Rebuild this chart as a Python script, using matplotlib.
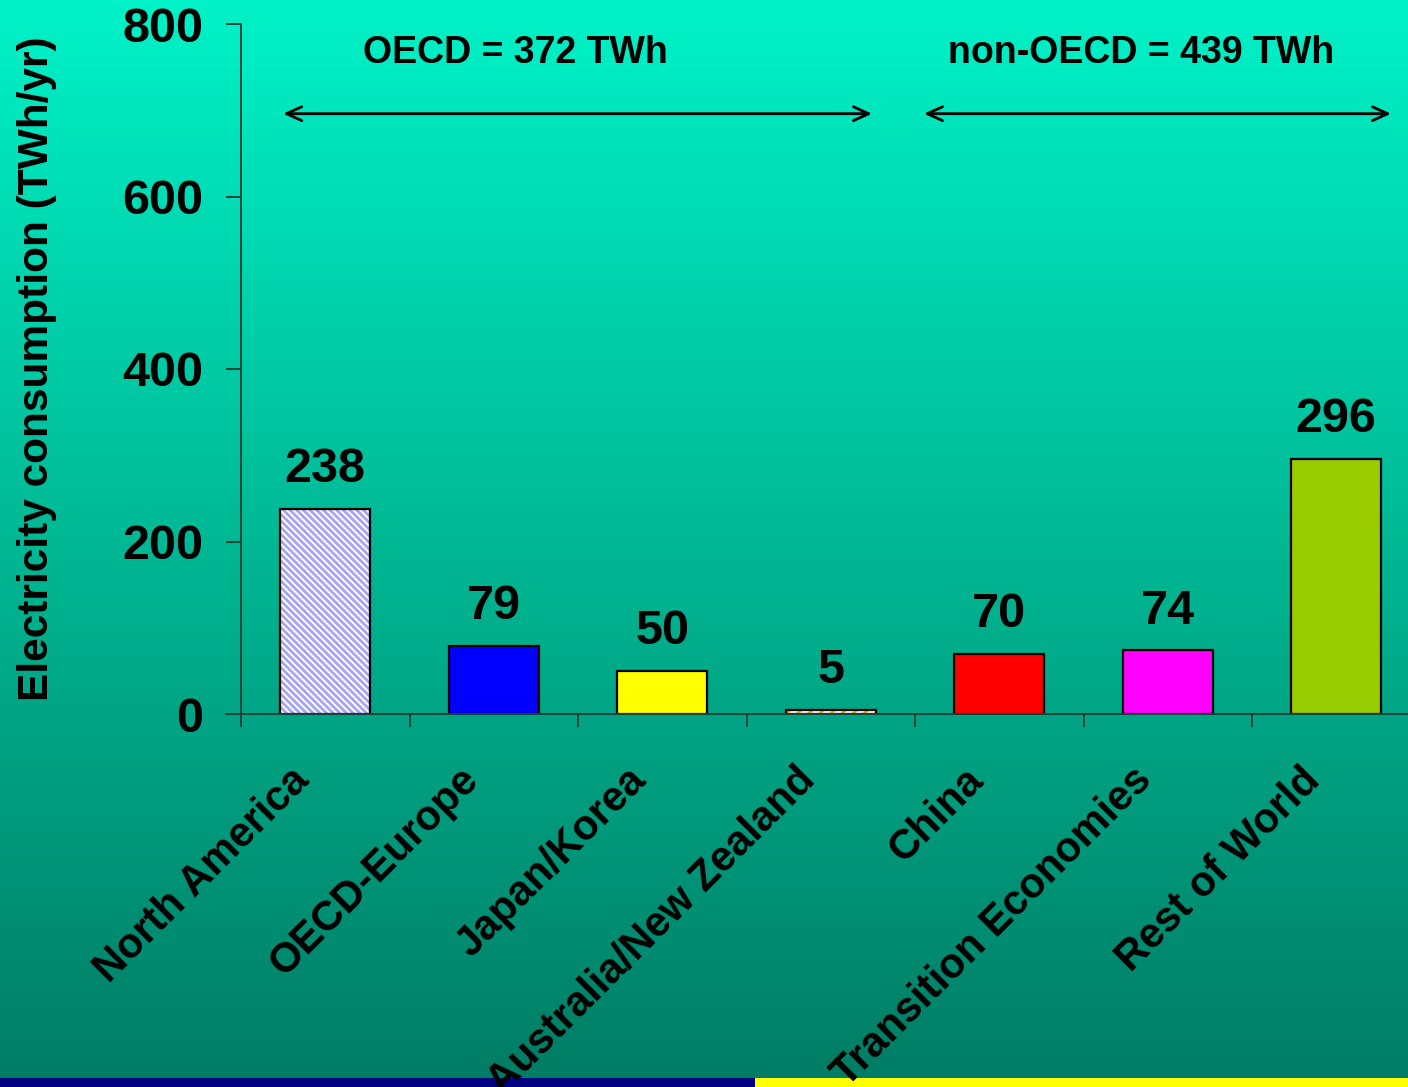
import numpy as np
import matplotlib
matplotlib.use("Agg")
import matplotlib.pyplot as plt
from matplotlib.colors import LinearSegmentedColormap
from matplotlib.patches import Rectangle

plt.rcParams['font.family'] = ['Liberation Sans', 'DejaVu Sans']
plt.rcParams['font.weight'] = 'bold'
plt.rcParams['hatch.linewidth'] = 2.0

# Electricity consumption by region (TWh/yr)
regions = ["North America", "OECD-Europe", "Japan/Korea", "Australia/New Zealand",
           "China", "Transition Economies", "Rest of World"]
consumption = [238, 79, 50, 5, 70, 74, 296]
bar_colors = ["#FFFFFF", "#0000FF", "#FFFF00", "#FFFFFF", "#FF0000", "#FF00FF", "#99CC00"]
hatch_colors = ["#A4A4F2", None, None, "#F0B400", None, None, None]
hatches = ["\\\\\\\\\\", None, None, "///", None, None, None]
y_ticks = [0, 200, 400, 600, 800]
group_labels = ["OECD = 372 TWh", "non-OECD = 439 TWh"]

W, H = 1408, 1087
fig = plt.figure(figsize=(W / 100, H / 100), dpi=100)

# Gradient background plus the two-colour strip at the bottom
bg = fig.add_axes([0, 0, 1, 1], zorder=-10)
grad = np.linspace(0, 1, 256).reshape(-1, 1)
cmap = LinearSegmentedColormap.from_list("bg", ["#00F2C8", "#00B894", "#007C64"])
bg.imshow(grad, aspect="auto", cmap=cmap, extent=[0, 1, 0, 1], origin="upper")
bg.add_patch(Rectangle((0, 0), 755 / W, 9 / H, color="#000080", lw=0))
bg.add_patch(Rectangle((755 / W, 0), 1 - 755 / W, 9 / H, color="#FFFF00", lw=0))
bg.set_xlim(0, 1)
bg.set_ylim(0, 1)
bg.axis("off")

ax = fig.add_axes([241 / W, 373 / H, 1179.5 / W, 690 / H])
ax.set_facecolor("none")
x = np.arange(len(regions))
width = 0.535

for i in range(len(regions)):
    if hatches[i]:
        ax.bar(x[i], consumption[i], width, color=bar_colors[i], edgecolor=hatch_colors[i],
               hatch=hatches[i], linewidth=0, zorder=2)
        ax.bar(x[i], consumption[i], width, color="none", edgecolor="black",
               linewidth=1.6, zorder=3)
    else:
        ax.bar(x[i], consumption[i], width, color=bar_colors[i], edgecolor="black",
               linewidth=1.6, zorder=3)

for i, v in enumerate(consumption):
    ax.annotate(str(v), xy=(x[i], v), xytext=(0, 12), textcoords="offset points",
                ha="center", va="bottom", fontsize=35, fontweight="bold", color="black")

ax.set_xlim(-0.5, len(regions) - 0.5)
ax.set_ylim(0, 800)

axis_color = "#14463A"
for side in ["top", "right"]:
    ax.spines[side].set_visible(False)
ax.spines["left"].set_color(axis_color)
ax.spines["bottom"].set_color(axis_color)
ax.spines["left"].set_linewidth(1.4)
ax.spines["bottom"].set_linewidth(1.4)
ax.spines["left"].set_bounds(-9, 800)

ax.set_yticks(y_ticks)
ax.set_yticklabels([str(t) for t in y_ticks], fontsize=35, fontweight="bold")
ax.tick_params(axis="y", length=11, width=1.4, color=axis_color, pad=16)

ax.set_xticks(np.arange(len(regions) + 1) - 0.5)
ax.set_xticklabels([])
ax.tick_params(axis="x", length=9, width=1.4, color=axis_color, direction="out")

# Extend the baseline left past the y axis
ax.plot([-0.59, len(regions) - 0.5], [0, 0], color=axis_color, lw=1.4,
        clip_on=False, zorder=4)

for i, name in enumerate(regions):
    ax.annotate(name, xy=(x[i], 0), xycoords=("data", "axes fraction"),
                xytext=(-26, -33), textcoords="offset points",
                rotation=45, rotation_mode="anchor", ha="right", va="top",
                fontsize=30, fontweight="bold", color="black")

ax.set_ylabel("Electricity consumption (TWh/yr)", fontsize=30.5, fontweight="bold")
ax.yaxis.set_label_coords(-0.156, 0.5)

# Group spans for OECD and non-OECD regions
arrow_kw = dict(arrowstyle="<->,head_length=0.55,head_width=0.25", lw=2,
                color="black", mutation_scale=20, shrinkA=0, shrinkB=0)
ax.annotate("", xy=(-0.25, 696), xytext=(3.245, 696), arrowprops=arrow_kw)
ax.annotate("", xy=(3.553, 696), xytext=(6.325, 696), arrowprops=arrow_kw)
ax.text(1.126, 766, group_labels[0], ha="center", va="center", fontsize=27,
        fontweight="bold")
ax.text(4.84, 766, group_labels[1], ha="center", va="center", fontsize=27,
        fontweight="bold")

fig.savefig("out.png", dpi=100)
